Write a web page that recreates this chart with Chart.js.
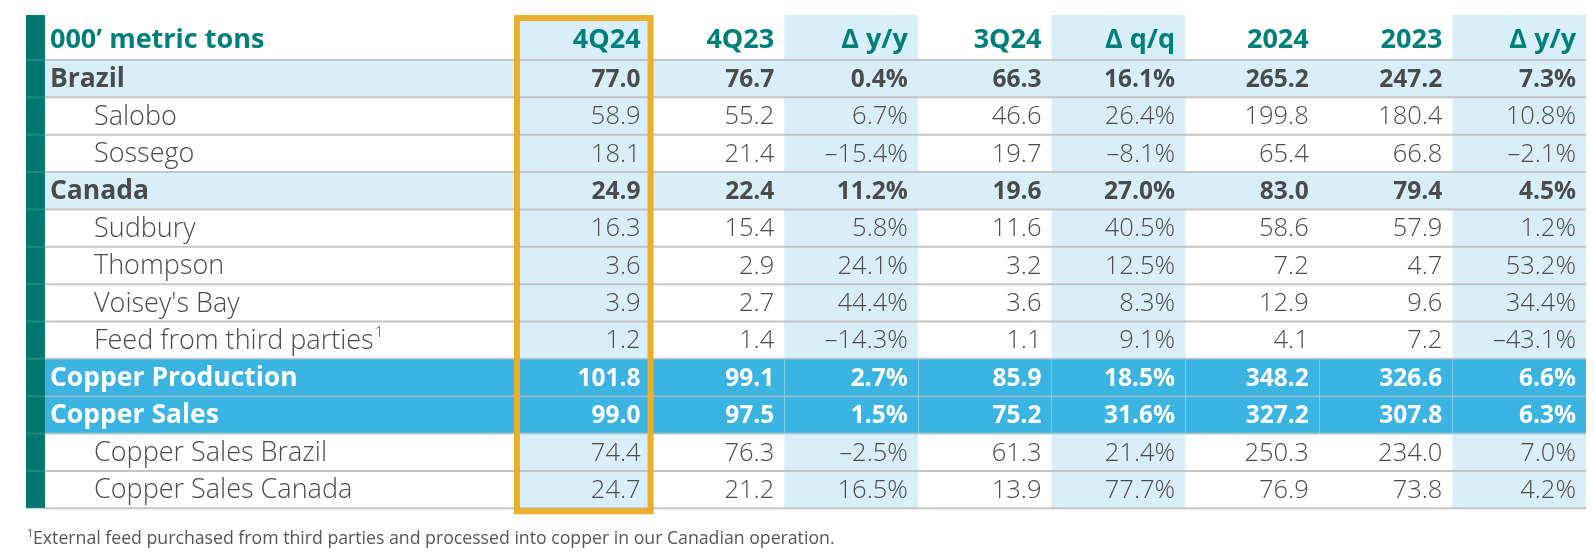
<!DOCTYPE html>
<html>
<head>
<meta charset="utf-8">
<script src="https://cdn.jsdelivr.net/npm/chart.js@4.4.1/dist/chart.umd.min.js"></script>
<style>
  html, body { margin: 0; padding: 0; background: #ffffff; }
  #wrap { position: relative; width: 1594px; height: 552px; }
</style>
</head>
<body>
<div id="wrap"><canvas id="copper-table"></canvas></div>
<script>
// Table content
const columns = ['4Q24', '4Q23', 'Δ y/y', '3Q24', 'Δ q/q', '2024', '2023', 'Δ y/y'];
const pctColumns = [false, false, true, false, true, false, false, true];
const rowLabels = ['Brazil', 'Salobo', 'Sossego', 'Canada', 'Sudbury', 'Thompson', "Voisey's Bay",
  'Feed from third parties', 'Copper Production', 'Copper Sales', 'Copper Sales Brazil', 'Copper Sales Canada'];
const rowKinds = ['group', 'item', 'item', 'group', 'item', 'item', 'item', 'item', 'total', 'total', 'item', 'item'];
const rowNotes = ['', '', '', '', '', '', '', '1', '', '', '', ''];

const q4_2024 = [77.0, 58.9, 18.1, 24.9, 16.3, 3.6, 3.9, 1.2, 101.8, 99.0, 74.4, 24.7];
const q4_2023 = [76.7, 55.2, 21.4, 22.4, 15.4, 2.9, 2.7, 1.4, 99.1, 97.5, 76.3, 21.2];
const yoyQuarter = [0.4, 6.7, -15.4, 11.2, 5.8, 24.1, 44.4, -14.3, 2.7, 1.5, -2.5, 16.5];
const q3_2024 = [66.3, 46.6, 19.7, 19.6, 11.6, 3.2, 3.6, 1.1, 85.9, 75.2, 61.3, 13.9];
const qoq = [16.1, 26.4, -8.1, 27.0, 40.5, 12.5, 8.3, 9.1, 18.5, 31.6, 21.4, 77.7];
const fy2024 = [265.2, 199.8, 65.4, 83.0, 58.6, 7.2, 12.9, 4.1, 348.2, 327.2, 250.3, 76.9];
const fy2023 = [247.2, 180.4, 66.8, 79.4, 57.9, 4.7, 9.6, 7.2, 326.6, 307.8, 234.0, 73.8];
const yoyYear = [7.3, 10.8, -2.1, 4.5, 1.2, 53.2, 34.4, -43.1, 6.6, 6.3, 7.0, 4.2];

const unitLabel = '000’ metric tons';
const footnote = 'External feed purchased from third parties and processed into copper in our Canadian operation.';

const seriesList = [q4_2024, q4_2023, yoyQuarter, q3_2024, qoq, fy2024, fy2023, yoyYear];

// Layout (in column / row units of the scales)
const TEAL_W = 0.142;
const LABEL_W = 3.532;
const HEADER_H = 1.2045;
const shadedCols = [0, 2, 4, 7];

const FONT = '"Open Sans", "Noto Sans", sans-serif';
const COLORS = {
  teal: '#00786f',
  tealText: '#00807a',
  pale: '#d8eef8',
  bright: '#3cb4e2',
  orange: '#ebb02b',
  text: '#4b4b4b',
  rule: '#c4c4c4'
};

function fmt(v, pct) {
  const s = Math.abs(v).toFixed(1) + (pct ? '%' : '');
  return v < 0 ? '–' + s : s;
}

// one invisible point per cell; text is placed at the point the scales give
const datasets = seriesList.map((values, c) => ({
  label: columns[c],
  data: values.map((v, r) => ({ x: c + 1, y: r + 0.5 })),
  pointRadius: 0
}));
datasets.push({
  label: 'rows',
  data: rowLabels.map((l, r) => ({ x: -LABEL_W, y: r + 0.5 })),
  pointRadius: 0
});
datasets.push({
  label: 'header',
  data: columns.map((l, c) => ({ x: c + 1, y: -HEADER_H / 2 })).concat([{ x: -LABEL_W, y: -HEADER_H / 2 }]),
  pointRadius: 0
});

const tablePlugin = {
  id: 'tablePlugin',
  beforeDatasetsDraw(chart) {
    const ctx = chart.ctx;
    const xs = chart.scales.x, ys = chart.scales.y;
    const box = (x0, x1, y0, y1, color) => {
      const px0 = xs.getPixelForValue(x0), px1 = xs.getPixelForValue(x1);
      const py0 = ys.getPixelForValue(y0), py1 = ys.getPixelForValue(y1);
      ctx.fillStyle = color;
      ctx.fillRect(px0, py0, px1 - px0, py1 - py0);
    };
    ctx.save();
    // teal side bar
    box(-LABEL_W - TEAL_W, -LABEL_W, -HEADER_H, rowLabels.length, COLORS.teal);
    // header shading
    shadedCols.forEach(c => box(c, c + 1, -HEADER_H, 0, COLORS.pale));
    // body shading
    rowKinds.forEach((kind, r) => {
      if (kind === 'group') box(-LABEL_W, columns.length, r, r + 1, COLORS.pale);
      else if (kind === 'total') box(-LABEL_W, columns.length, r, r + 1, COLORS.bright);
      else shadedCols.forEach(c => box(c, c + 1, r, r + 1, COLORS.pale));
    });
    // faint column separators in total rows
    ctx.strokeStyle = 'rgba(255,255,255,0.35)';
    ctx.lineWidth = 1;
    rowKinds.forEach((kind, r) => {
      if (kind !== 'total') return;
      for (let c = 1; c < columns.length; c++) {
        const px = Math.round(xs.getPixelForValue(c)) + 0.5;
        ctx.beginPath();
        ctx.moveTo(px, ys.getPixelForValue(r));
        ctx.lineTo(px, ys.getPixelForValue(r + 1));
        ctx.stroke();
      }
    });
    // row rules
    ctx.lineWidth = 2;
    for (let r = 0; r <= rowLabels.length; r++) {
      const py = ys.getPixelForValue(r);
      ctx.strokeStyle = (rowKinds[r - 1] === 'total' || rowKinds[r] === 'total') ? 'rgba(170,190,200,0.7)' : COLORS.rule;
      ctx.beginPath();
      ctx.moveTo(xs.getPixelForValue(-LABEL_W), py);
      ctx.lineTo(xs.getPixelForValue(columns.length), py);
      ctx.stroke();
      // faint marks across the teal bar
      ctx.strokeStyle = 'rgba(255,255,255,0.12)';
      ctx.beginPath();
      ctx.moveTo(xs.getPixelForValue(-LABEL_W - TEAL_W), py);
      ctx.lineTo(xs.getPixelForValue(-LABEL_W), py);
      ctx.stroke();
    }
    ctx.restore();
  },
  afterDatasetsDraw(chart) {
    const ctx = chart.ctx;
    const xs = chart.scales.x, ys = chart.scales.y;
    ctx.save();
    ctx.textBaseline = 'middle';
    // value cells
    seriesList.forEach((values, c) => {
      const meta = chart.getDatasetMeta(c);
      meta.data.forEach((pt, r) => {
        const kind = rowKinds[r];
        const bold = kind !== 'item';
        ctx.font = (bold ? '700 24.5px ' : '300 25.5px ') + FONT;
        ctx.fillStyle = kind === 'total' ? '#ffffff' : COLORS.text;
        ctx.textAlign = 'right';
        ctx.fillText(fmt(values[r], pctColumns[c]), pt.x - 10, pt.y + 1);
      });
    });
    // row labels
    const rowMeta = chart.getDatasetMeta(seriesList.length);
    rowMeta.data.forEach((pt, r) => {
      const kind = rowKinds[r];
      const bold = kind !== 'item';
      ctx.font = (bold ? '700 26.5px ' : '300 27px ') + FONT;
      ctx.fillStyle = kind === 'total' ? '#ffffff' : COLORS.text;
      ctx.textAlign = 'left';
      const x0 = pt.x + (bold ? 5 : 49);
      ctx.fillText(rowLabels[r], x0, pt.y + 1);
      if (rowNotes[r]) {
        const w = ctx.measureText(rowLabels[r]).width;
        ctx.font = '300 15px ' + FONT;
        ctx.fillText(rowNotes[r], x0 + w + 1, pt.y - 7);
      }
    });
    // header
    const headMeta = chart.getDatasetMeta(seriesList.length + 1);
    ctx.font = '700 27px ' + FONT;
    ctx.fillStyle = COLORS.tealText;
    headMeta.data.forEach((pt, i) => {
      if (i < columns.length) {
        ctx.textAlign = 'right';
        ctx.fillText(columns[i], pt.x - 10, pt.y + 3);
      } else {
        ctx.textAlign = 'left';
        ctx.fillText(unitLabel, pt.x + 5, pt.y + 3);
      }
    });
    // highlight frame around the latest quarter
    const bw = 6;
    const fx0 = xs.getPixelForValue(0), fx1 = xs.getPixelForValue(1);
    const fy0 = ys.getPixelForValue(-HEADER_H), fy1 = ys.getPixelForValue(rowLabels.length);
    ctx.strokeStyle = COLORS.orange;
    ctx.lineWidth = bw;
    ctx.strokeRect(fx0, fy0 + bw / 2, fx1 - fx0, fy1 - fy0);
    // footnote
    const fy = fy1 + 31;
    const fx = xs.getPixelForValue(-LABEL_W - TEAL_W);
    ctx.textAlign = 'left';
    ctx.fillStyle = '#555555';
    ctx.font = '400 11px ' + FONT;
    ctx.fillText('1', fx + 1, fy - 5);
    ctx.font = '400 17.7px ' + FONT;
    ctx.fillText(footnote, fx + 7, fy);
    ctx.restore();
  }
};

new Chart(document.getElementById('copper-table'), {
  type: 'scatter',
  data: { datasets: datasets },
  options: {
    responsive: true,
    maintainAspectRatio: false,
    animation: false,
    events: [],
    layout: { padding: { left: 26, right: 8, top: 15, bottom: 43.7 } },
    plugins: { legend: { display: false }, tooltip: { enabled: false } },
    scales: {
      x: { type: 'linear', display: false, min: -LABEL_W - TEAL_W, max: columns.length },
      y: { type: 'linear', display: false, reverse: true, min: -HEADER_H, max: rowLabels.length }
    }
  },
  plugins: [tablePlugin]
});
</script>
</body>
</html>
